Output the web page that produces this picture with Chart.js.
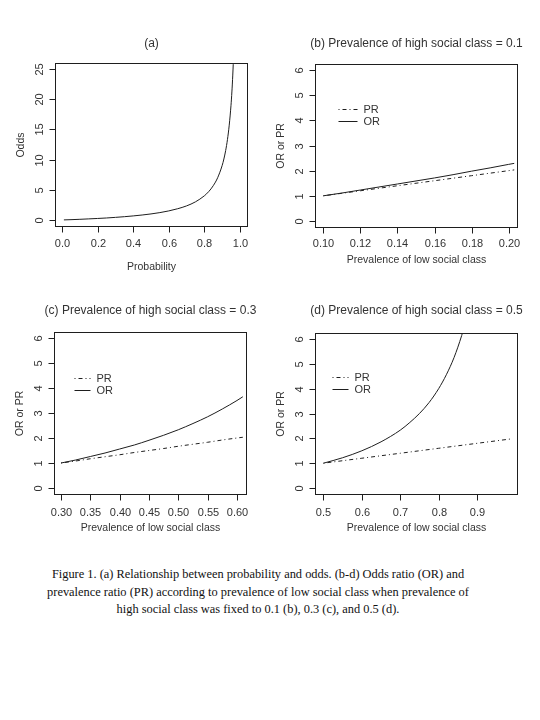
<!DOCTYPE html>
<html>
<head>
<meta charset="utf-8">
<title>Figure 1</title>
<script src="https://cdn.jsdelivr.net/npm/chart.js@4.4.1/dist/chart.umd.min.js"></script>
<style>
  body { margin: 0; background: #fff; }
  #page { position: relative; width: 540px; height: 720px; background: #fff; overflow: hidden; }
  #page canvas { position: absolute; }
  #caption {
    position: absolute; left: 0; top: 566px; width: 516px;
    font-family: "Liberation Serif", "Times New Roman", serif;
    font-size: 12.4px; line-height: 17.5px; color: #111; text-align: center;
  }
</style>
</head>
<body>
<div id="page">
  <canvas id="chartA" width="270" height="285" style="left:0;top:0"></canvas>
  <canvas id="chartB" width="270" height="285" style="left:270px;top:0"></canvas>
  <canvas id="chartC" width="270" height="270" style="left:0;top:285px"></canvas>
  <canvas id="chartD" width="270" height="270" style="left:270px;top:285px"></canvas>
  <div id="caption">
    Figure 1. (a) Relationship between probability and odds. (b-d) Odds ratio (OR) and<br>
    prevalence ratio (PR) according to prevalence of low social class when prevalence of<br>
    high social class was fixed to 0.1 (b), 0.3 (c), and 0.5 (d).
  </div>
</div>

<script>
// ---- data ----

// (a) probability vs odds
const probA = [0.01, 0.05, 0.10, 0.15, 0.20, 0.25, 0.30, 0.35, 0.40, 0.45, 0.50, 0.55, 0.60, 0.65,
  0.70, 0.75, 0.80, 0.825, 0.85, 0.875, 0.90, 0.91, 0.92, 0.93, 0.94, 0.95, 0.955, 0.96, 0.965];
const oddsA = [0.01, 0.05, 0.11, 0.18, 0.25, 0.33, 0.43, 0.54, 0.67, 0.82, 1.00, 1.22, 1.50, 1.86,
  2.33, 3.00, 4.00, 4.71, 5.67, 7.00, 9.00, 10.1, 11.5, 13.3, 15.7, 19.0, 21.2, 24.0, 27.6];

// (b) high social class = 0.1
const lowB = [0.10, 0.11, 0.12, 0.13, 0.14, 0.15, 0.16, 0.17, 0.18, 0.19, 0.20, 0.203];
const prB = [1.00, 1.10, 1.20, 1.30, 1.40, 1.50, 1.60, 1.70, 1.80, 1.90, 2.00, 2.03];
const orB = [1.00, 1.11, 1.23, 1.35, 1.47, 1.59, 1.71, 1.84, 1.98, 2.11, 2.25, 2.29];

// (c) high social class = 0.3
const lowC = [0.30, 0.325, 0.35, 0.375, 0.40, 0.425, 0.45, 0.475, 0.50, 0.525, 0.55, 0.575, 0.60, 0.61];
const prC = [1.00, 1.08, 1.17, 1.25, 1.33, 1.42, 1.50, 1.58, 1.67, 1.75, 1.83, 1.92, 2.00, 2.03];
const orC = [1.00, 1.12, 1.26, 1.40, 1.56, 1.72, 1.91, 2.11, 2.33, 2.58, 2.85, 3.16, 3.50, 3.65];

// (d) high social class = 0.5
const lowD = [0.50, 0.55, 0.60, 0.65, 0.70, 0.75, 0.80, 0.85, 0.90, 0.95, 0.99];
const prD = [1.00, 1.10, 1.20, 1.30, 1.40, 1.50, 1.60, 1.70, 1.80, 1.90, 1.98];
const lowOrD = [0.50, 0.55, 0.60, 0.65, 0.70, 0.725, 0.75, 0.775, 0.80, 0.82, 0.84, 0.86, 0.87];
const orD = [1.00, 1.22, 1.50, 1.86, 2.33, 2.64, 3.00, 3.44, 4.00, 4.56, 5.25, 6.14, 6.69];

// tick labels
const probTicks = ["0.0", "0.2", "0.4", "0.6", "0.8", "1.0"];
const oddsTicks = ["0", "5", "10", "15", "20", "25"];
const ratioTicks = ["0", "1", "2", "3", "4", "5", "6"];
const lowTicksB = ["0.10", "0.12", "0.14", "0.16", "0.18", "0.20"];
const lowTicksC = ["0.30", "0.35", "0.40", "0.45", "0.50", "0.55", "0.60"];
const lowTicksD = ["0.5", "0.6", "0.7", "0.8", "0.9"];

// ---- styling ----
const INK = "#1e1e1e";
const TEXT = "#333";
const SANS = '"Liberation Sans", Arial, sans-serif';
const DOT_DASH = [1, 3, 4, 3]; // R lty "dotdash"

function toPoints(xs, ys) {
  return xs.map((x, i) => ({ x: x, y: ys[i] }));
}

function lineSet(label, xs, ys, dash) {
  return {
    label: label,
    data: toPoints(xs, ys),
    borderColor: INK,
    borderWidth: 1,
    borderDash: dash || [],
    pointRadius: 0,
    fill: false,
    cubicInterpolationMode: "monotone",
  };
}

// draws the base-graphics look: box, outward ticks, rotated y labels, titles, legend
const rStylePlugin = {
  id: "rStyle",
  afterDraw(chart, args, opts) {
    const ctx = chart.ctx;
    const a = chart.chartArea;
    const xs = chart.scales.x;
    const ys = chart.scales.y;
    const L = Math.round(a.left) + 0.5;
    const R = Math.round(a.right) + 0.5;
    const T = Math.round(a.top) + 0.5;
    const B = Math.round(a.bottom) + 0.5;

    ctx.save();
    ctx.strokeStyle = INK;
    ctx.lineWidth = 1;
    ctx.setLineDash([]);
    ctx.strokeRect(L, T, R - L, B - T);

    ctx.fillStyle = TEXT;
    ctx.font = "11px " + SANS;

    // x axis ticks
    ctx.textAlign = "center";
    ctx.textBaseline = "middle";
    opts.xLabels.forEach((lab) => {
      const px = Math.round(xs.getPixelForValue(Number(lab))) + 0.5;
      ctx.beginPath();
      ctx.moveTo(px, B);
      ctx.lineTo(px, B + 6);
      ctx.stroke();
      ctx.fillText(lab, px, B + opts.xLabelGap);
    });

    // y axis ticks, labels parallel to the axis
    opts.yLabels.forEach((lab) => {
      const py = Math.round(ys.getPixelForValue(Number(lab))) + 0.5;
      ctx.beginPath();
      ctx.moveTo(L, py);
      ctx.lineTo(L - 6, py);
      ctx.stroke();
      ctx.save();
      ctx.translate(L - 16, py);
      ctx.rotate(-Math.PI / 2);
      ctx.fillText(lab, 0, 0);
      ctx.restore();
    });

    // panel title
    ctx.font = "12px " + SANS;
    ctx.fillText(opts.title, (L + R) / 2, T - opts.titleGap);

    // axis titles
    ctx.font = "10.5px " + SANS;
    ctx.fillText(opts.xTitle, (L + R) / 2, B + opts.xTitleGap);
    ctx.save();
    ctx.translate(L - 34, (T + B) / 2);
    ctx.rotate(-Math.PI / 2);
    ctx.fillText(opts.yTitle, 0, 0);
    ctx.restore();

    // legend built from the datasets
    if (opts.legend) {
      const lg = opts.legend;
      ctx.font = "11px " + SANS;
      ctx.textAlign = "left";
      chart.data.datasets.forEach((ds, i) => {
        const y = Math.round(T + lg.top + i * 12.5) + 0.5;
        ctx.setLineDash(ds.borderDash);
        ctx.beginPath();
        ctx.moveTo(L + lg.x0, y);
        ctx.lineTo(L + lg.x1, y);
        ctx.stroke();
        ctx.setLineDash([]);
        ctx.fillText(ds.label, L + lg.x1 + 6, y);
      });
    }
    ctx.restore();
  },
};

function makePanel(id, datasets, xRange, yRange, padding, style) {
  const canvas = document.getElementById(id);
  return new Chart(canvas, {
    type: "line",
    data: { datasets: datasets },
    options: {
      responsive: false,
      devicePixelRatio: 1,
      animation: false,
      layout: { padding: padding },
      scales: {
        x: { type: "linear", min: xRange[0], max: xRange[1], display: false },
        y: { type: "linear", min: yRange[0], max: yRange[1], display: false },
      },
      plugins: {
        legend: { display: false },
        tooltip: { enabled: false },
        rStyle: style,
      },
    },
    plugins: [rStylePlugin],
  });
}

const ratioRange = [-0.24, 6.24];

makePanel("chartA",
  [lineSet("Odds", probA, oddsA)],
  [-0.04, 1.04], [-1, 26],
  { left: 55, right: 23, top: 63, bottom: 59 },
  { title: "(a)", titleGap: 20, xTitle: "Probability", xTitleGap: 41, xLabelGap: 17,
    yTitle: "Odds", xLabels: probTicks, yLabels: oddsTicks });

makePanel("chartB",
  [lineSet("PR", lowB, prB, DOT_DASH), lineSet("OR", lowB, orB)],
  [0.0955, 0.2045], ratioRange,
  { left: 45, right: 23, top: 64, bottom: 58 },
  { title: "(b) Prevalence of high social class = 0.1", titleGap: 21,
    xTitle: "Prevalence of low social class", xTitleGap: 33, xLabelGap: 16,
    yTitle: "OR or PR", xLabels: lowTicksB, yLabels: ratioTicks,
    legend: { x0: 23, x1: 42, top: 44 } });

makePanel("chartC",
  [lineSet("PR", lowC, prC, DOT_DASH), lineSet("OR", lowC, orC)],
  [0.288, 0.6154], ratioRange,
  { left: 54, right: 24, top: 47, bottom: 61 },
  { title: "(c) Prevalence of high social class = 0.3", titleGap: 22,
    xTitle: "Prevalence of low social class", xTitleGap: 34, xLabelGap: 18,
    yTitle: "OR or PR", xLabels: lowTicksC, yLabels: ratioTicks,
    legend: { x0: 20, x1: 36, top: 45 } });

makePanel("chartD",
  [lineSet("PR", lowD, prD, DOT_DASH), lineSet("OR", lowOrD, orD)],
  [0.478, 1.004], ratioRange,
  { left: 45, right: 23, top: 48, bottom: 61 },
  { title: "(d) Prevalence of high social class = 0.5", titleGap: 23,
    xTitle: "Prevalence of low social class", xTitleGap: 34, xLabelGap: 18,
    yTitle: "OR or PR", xLabels: lowTicksD, yLabels: ratioTicks,
    legend: { x0: 17, x1: 33, top: 43 } });
</script>
</body>
</html>
